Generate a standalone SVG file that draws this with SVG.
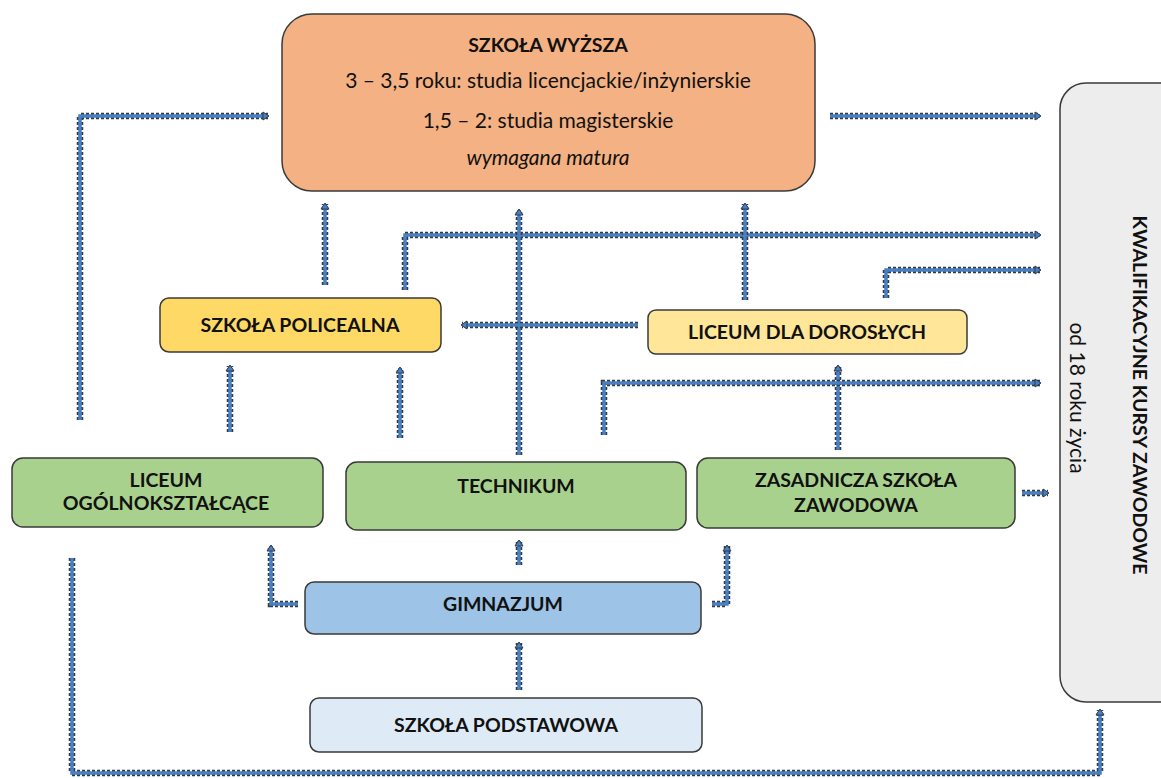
<svg xmlns="http://www.w3.org/2000/svg" xmlns:xlink="http://www.w3.org/1999/xlink" width="1161" height="778" viewBox="0 0 1161 778">
<style>
.box{stroke:#3a3a3a;stroke-width:1.5}
.t{font-family:Lato,"Open Sans","Liberation Sans",sans-serif;fill:#111;text-anchor:middle}
.b{font-weight:bold;font-size:19.5px}
.n{font-size:21px}
.edge{stroke:#2f3a4a;stroke-width:6.5;stroke-dasharray:3 2;fill:none}
.core{stroke:#4a80c2;stroke-width:3.5;fill:none}
</style>
<defs>
<marker id="ah" markerUnits="userSpaceOnUse" markerWidth="12" markerHeight="12" refX="6" refY="6" orient="auto">
<path d="M1,2 L7,6 L1,10 Z" fill="#4a80c2" stroke="#2f3a4a" stroke-width="1"/>
</marker>
<path id="p1" d="M80,420 V116 H268"/>
<path id="p2" d="M325,285 V204"/>
<path id="p3" d="M405,290 V235 H1040"/>
<path id="p4" d="M519,455 V210"/>
<path id="p5" d="M745,300 V204"/>
<path id="p6" d="M830,116 H1040"/>
<path id="p7" d="M886,298 V270 H1040"/>
<path id="p8" d="M638,325 H462"/>
<path id="p9" d="M838,450 V366"/>
<path id="p10" d="M604,435 V383 H1040"/>
<path id="p11" d="M230,432 V366"/>
<path id="p12" d="M400,438 V368"/>
<path id="p13" d="M1022,493 H1048"/>
<path id="p14" d="M298,604 H271 V546"/>
<path id="p15" d="M519,565 V541"/>
<path id="p16" d="M712,604 H727 V546"/>
<path id="p17" d="M519,690 V643"/>
<path id="p18" d="M72,558 V773 H1100 V710"/>
</defs>

<g id="connectors">
<use xlink:href="#p1" class="edge"/><use xlink:href="#p1" class="core" marker-end="url(#ah)"/>
<use xlink:href="#p2" class="edge"/><use xlink:href="#p2" class="core" marker-end="url(#ah)"/>
<use xlink:href="#p3" class="edge"/><use xlink:href="#p3" class="core" marker-end="url(#ah)"/>
<use xlink:href="#p4" class="edge"/><use xlink:href="#p4" class="core" marker-end="url(#ah)"/>
<use xlink:href="#p5" class="edge"/><use xlink:href="#p5" class="core" marker-end="url(#ah)"/>
<use xlink:href="#p6" class="edge"/><use xlink:href="#p6" class="core" marker-end="url(#ah)"/>
<use xlink:href="#p7" class="edge"/><use xlink:href="#p7" class="core" marker-end="url(#ah)"/>
<use xlink:href="#p8" class="edge"/><use xlink:href="#p8" class="core" marker-end="url(#ah)"/>
<use xlink:href="#p9" class="edge"/><use xlink:href="#p9" class="core" marker-end="url(#ah)"/>
<use xlink:href="#p10" class="edge"/><use xlink:href="#p10" class="core" marker-end="url(#ah)"/>
<use xlink:href="#p11" class="edge"/><use xlink:href="#p11" class="core" marker-end="url(#ah)"/>
<use xlink:href="#p12" class="edge"/><use xlink:href="#p12" class="core" marker-end="url(#ah)"/>
<use xlink:href="#p13" class="edge"/><use xlink:href="#p13" class="core" marker-end="url(#ah)"/>
<use xlink:href="#p14" class="edge"/><use xlink:href="#p14" class="core" marker-end="url(#ah)"/>
<use xlink:href="#p15" class="edge"/><use xlink:href="#p15" class="core" marker-end="url(#ah)"/>
<use xlink:href="#p16" class="edge"/><use xlink:href="#p16" class="core" marker-end="url(#ah)"/>
<use xlink:href="#p17" class="edge"/><use xlink:href="#p17" class="core" marker-end="url(#ah)"/>
<use xlink:href="#p18" class="edge"/><use xlink:href="#p18" class="core" marker-end="url(#ah)"/>
</g>

<g id="szkola-wyzsza">
<rect class="box" x="282" y="14" width="533" height="177" rx="30" fill="#f4b183"/>
<text class="t b" x="548" y="52">SZKOŁA WYŻSZA</text>
<text class="t n" x="548" y="88">3 – 3,5 roku: studia licencjackie/inżynierskie</text>
<text class="t n" x="548" y="128">1,5 – 2: studia magisterskie</text>
<text class="t n" x="548" y="165" font-style="italic">wymagana matura</text>
</g>

<g id="kursy">
<rect class="box" x="1060" y="83" width="130" height="619" rx="26" fill="#ededed"/>
<text class="t b" transform="translate(1133,395) rotate(90)">KWALIFIKACYJNE KURSY ZAWODOWE</text>
<text class="t n" transform="translate(1070,398) rotate(90)">od 18 roku życia</text>
</g>

<g id="szkola-policealna">
<rect class="box" x="160" y="298" width="281" height="54" rx="9" fill="#ffd966"/>
<text class="t b" x="300" y="332">SZKOŁA POLICEALNA</text>
</g>

<g id="liceum-dla-doroslych">
<rect class="box" x="648" y="310" width="319" height="44" rx="8" fill="#ffe699"/>
<text class="t b" x="807" y="339">LICEUM DLA DOROSŁYCH</text>
</g>

<g id="liceum-ogolnoksztalcace">
<rect class="box" x="12" y="458" width="311" height="69" rx="11" fill="#a9d18e"/>
<text class="t b" x="166" y="487">LICEUM</text>
<text class="t b" x="166" y="510">OGÓLNOKSZTAŁCĄCE</text>
</g>

<g id="technikum">
<rect class="box" x="346" y="462" width="340" height="68" rx="11" fill="#a9d18e"/>
<text class="t b" x="516" y="493">TECHNIKUM</text>
</g>

<g id="zasadnicza">
<rect class="box" x="697" y="458" width="318" height="70" rx="11" fill="#a9d18e"/>
<text class="t b" x="856" y="487">ZASADNICZA SZKOŁA</text>
<text class="t b" x="856" y="512">ZAWODOWA</text>
</g>

<g id="gimnazjum">
<rect class="box" x="305" y="582" width="396" height="52" rx="9" fill="#9dc3e6"/>
<text class="t b" x="503" y="611">GIMNAZJUM</text>
</g>

<g id="szkola-podstawowa">
<rect class="box" x="310" y="698" width="392" height="54" rx="9" fill="#deebf7"/>
<text class="t b" x="506" y="732">SZKOŁA PODSTAWOWA</text>
</g>
</svg>
